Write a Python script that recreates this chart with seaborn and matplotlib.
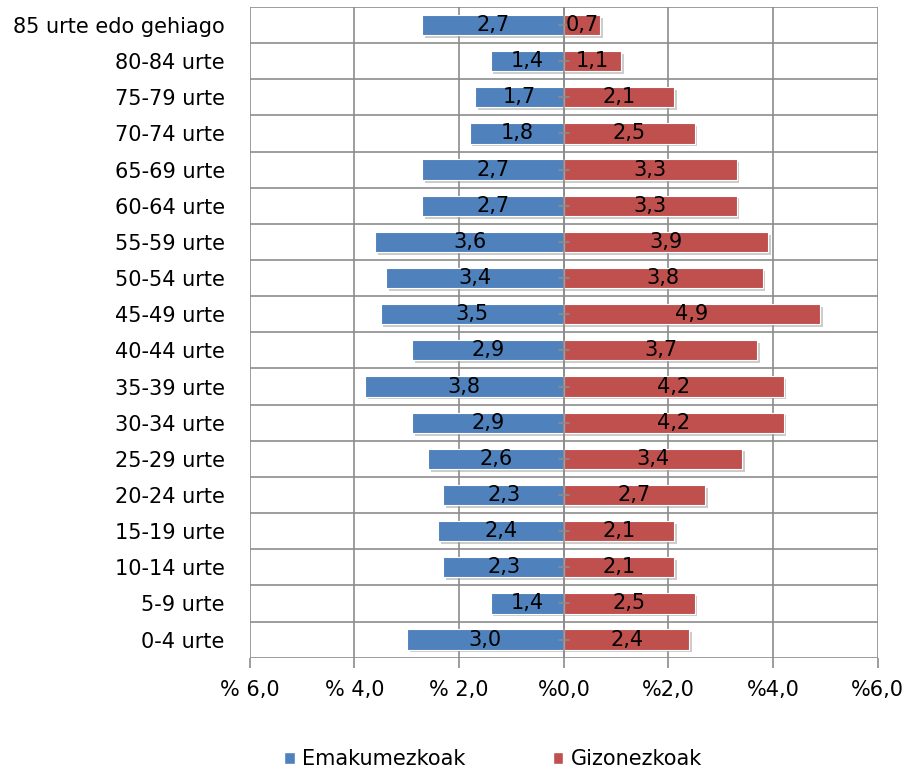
import matplotlib
matplotlib.use("Agg")
import matplotlib.pyplot as plt
import matplotlib.patheffects as pe
import matplotlib.patches as mpatches
import seaborn as sns
import pandas as pd

# Data (top to bottom as in the chart)
adin_taldeak = ['85 urte edo gehiago', '80-84 urte', '75-79 urte', '70-74 urte', '65-69 urte',
                '60-64 urte', '55-59 urte', '50-54 urte', '45-49 urte', '40-44 urte',
                '35-39 urte', '30-34 urte', '25-29 urte', '20-24 urte', '15-19 urte',
                '10-14 urte', '5-9 urte', '0-4 urte']
emakumezkoak = [2.7, 1.4, 1.7, 1.8, 2.7, 2.7, 3.6, 3.4, 3.5, 2.9, 3.8, 2.9, 2.6, 2.3, 2.4, 2.3, 1.4, 3.0]
gizonezkoak = [0.7, 1.1, 2.1, 2.5, 3.3, 3.3, 3.9, 3.8, 4.9, 3.7, 4.2, 4.2, 3.4, 2.7, 2.1, 2.1, 2.5, 2.4]
x_ticks = [-6, -4, -2, 0, 2, 4, 6]
x_tick_labels = ['% 6,0', '% 4,0', '% 2,0', '%0,0', '%2,0', '%4,0', '%6,0']

blue = '#4F81BD'
red = '#C0504D'
grid_color = '#8C8C8C'
fs = 15

df = pd.DataFrame({'taldea': adin_taldeak,
                   'emak': [-v for v in emakumezkoak],
                   'giz': gizonezkoak})

sns.set_style('white')
plt.rcParams['font.family'] = ['DejaVu Sans']
plt.rcParams['text.color'] = 'black'

dpi = 100
fig, ax = plt.subplots(figsize=(905 / dpi, 771 / dpi), dpi=dpi)
fig.subplots_adjust(left=0.276, right=0.970, top=0.991, bottom=0.147)

sns.barplot(data=df, y='taldea', x='emak', ax=ax, color=blue, width=0.56,
            saturation=1, orient='h', zorder=3)
sns.barplot(data=df, y='taldea', x='giz', ax=ax, color=red, width=0.56,
            saturation=1, orient='h', zorder=3)

shadow = [pe.SimplePatchShadow(offset=(2, -2), shadow_rgbFace='#9a9a9a', alpha=0.5), pe.Normal()]
for p in ax.patches:
    p.set_edgecolor('white')
    p.set_linewidth(0.8)
    p.set_path_effects(shadow)

# Value labels
for i, (w, m) in enumerate(zip(emakumezkoak, gizonezkoak)):
    ax.text(-w / 2, i, f"{w:.1f}".replace('.', ','), ha='center', va='center',
            fontsize=fs, color='black', zorder=5)
    ax.text(m / 2, i, f"{m:.1f}".replace('.', ','), ha='center', va='center',
            fontsize=fs, color='black', zorder=5)

n = len(adin_taldeak)
ax.set_xlim(-6, 6)
ax.set_ylim(n - 0.5, -0.5)

# Grid: vertical at ticks, horizontal between rows
for x in x_ticks:
    ax.axvline(x, color=grid_color, lw=1.2, zorder=1)
for k in range(n + 1):
    ax.axhline(k - 0.5, color=grid_color, lw=1.2, zorder=1)
ax.axvline(0, color=grid_color, lw=1.2, zorder=4)
for i in range(n):
    ax.plot([-0.1, 0.1], [i, i], color=grid_color, lw=1.2, zorder=4)

for s in ax.spines.values():
    s.set_visible(False)

ax.set_xticks(x_ticks)
ax.set_xticklabels(x_tick_labels, fontsize=fs)
ax.tick_params(axis='x', length=7, width=1.2, color=grid_color, pad=9, direction='out',
               bottom=True, labelcolor='black')
ax.tick_params(axis='y', length=0, labelsize=fs, pad=18, labelcolor='black')
ax.set_xlabel('')
ax.set_ylabel('')

handles = [mpatches.Patch(facecolor=blue, label='Emakumezkoak'),
           mpatches.Patch(facecolor=red, label='Gizonezkoak')]
fig.legend(handles=handles, loc='center', bbox_to_anchor=(0.545, 0.015), ncols=2,
           frameon=False, fontsize=fs, handlelength=0.5, handleheight=0.5,
           handletextpad=0.35, columnspacing=4.2, labelcolor='black')

fig.savefig('out.png', dpi=dpi)
